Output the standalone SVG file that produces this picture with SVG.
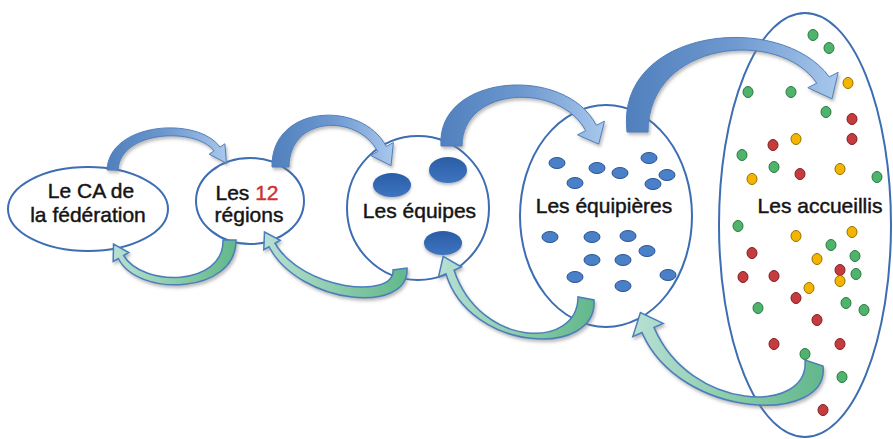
<svg xmlns="http://www.w3.org/2000/svg" width="893" height="439" viewBox="0 0 893 439">
<defs>
<style>
.node{fill:#fff;stroke:#3d6db3;stroke-width:2}
.lbl{font-family:"Liberation Sans",Arial,sans-serif;font-size:21px;fill:#151515;stroke:#151515;stroke-width:0.45;text-anchor:middle}
.top{fill:url(#gTop);stroke:#4f7fbc;stroke-width:1;filter:url(#sh)}
.bot{fill:url(#gBot);stroke:#4a7ebb;stroke-width:1.5;filter:url(#sh)}
.team{fill:url(#gTeam);filter:url(#sh2)}
.mem{fill:#4a80c8;stroke:#2b5593;stroke-width:1}
.g{fill:#4fb36b;stroke:#2c7a43;stroke-width:1}
.r{fill:#c63b3e;stroke:#7d2225;stroke-width:1}
.y{fill:#f4b500;stroke:#977200;stroke-width:1}
</style>
<linearGradient id="gTop" x1="0" y1="0" x2="1" y2="0">
<stop offset="0" stop-color="#5080bd"/>
<stop offset="0.5" stop-color="#6e98cf"/>
<stop offset="1" stop-color="#a8c8ec"/>
</linearGradient>
<linearGradient id="gBot" x1="0" y1="0" x2="1" y2="0">
<stop offset="0" stop-color="#b8e0d4"/>
<stop offset="0.55" stop-color="#88caa8"/>
<stop offset="1" stop-color="#62b78b"/>
</linearGradient>
<linearGradient id="gTeam" x1="0" y1="0" x2="0" y2="1">
<stop offset="0" stop-color="#2a5da6"/>
<stop offset="1" stop-color="#3f74c0"/>
</linearGradient>
<filter id="sh" x="-20%" y="-20%" width="140%" height="140%">
<feDropShadow dx="1.5" dy="2.5" stdDeviation="1.8" flood-color="#7a7a7a" flood-opacity="0.5"/>
</filter>
<filter id="sh2" x="-30%" y="-30%" width="160%" height="170%">
<feDropShadow dx="0" dy="2" stdDeviation="1.5" flood-color="#666" flood-opacity="0.45"/>
</filter>
</defs>
<rect width="893" height="439" fill="#fff"/>

<g id="node-accueillis">
<ellipse class="node" cx="805" cy="225" rx="86" ry="212"/>
<ellipse class="g" cx="813" cy="35" rx="5" ry="5.5"/>
<ellipse class="g" cx="829" cy="48" rx="5" ry="5.5"/>
<ellipse class="y" cx="848" cy="83" rx="5" ry="5.5"/>
<ellipse class="g" cx="748" cy="92" rx="5" ry="5.5"/>
<ellipse class="g" cx="791" cy="92" rx="5" ry="5.5"/>
<ellipse class="g" cx="826" cy="112" rx="5" ry="5.5"/>
<ellipse class="r" cx="852" cy="119" rx="5" ry="5.5"/>
<ellipse class="y" cx="796" cy="139" rx="5" ry="5.5"/>
<ellipse class="r" cx="773" cy="145" rx="5" ry="5.5"/>
<ellipse class="r" cx="852" cy="139" rx="5" ry="5.5"/>
<ellipse class="g" cx="742" cy="155" rx="5" ry="5.5"/>
<ellipse class="g" cx="774" cy="167" rx="5" ry="5.5"/>
<ellipse class="r" cx="800" cy="174" rx="5" ry="5.5"/>
<ellipse class="y" cx="840" cy="169" rx="5" ry="5.5"/>
<ellipse class="y" cx="752" cy="179" rx="5" ry="5.5"/>
<ellipse class="g" cx="877" cy="177" rx="5" ry="5.5"/>
<ellipse class="g" cx="738" cy="226" rx="5" ry="5.5"/>
<ellipse class="y" cx="796" cy="236" rx="5" ry="5.5"/>
<ellipse class="y" cx="852" cy="232" rx="5" ry="5.5"/>
<ellipse class="g" cx="831" cy="245" rx="5" ry="5.5"/>
<ellipse class="r" cx="752" cy="253" rx="5" ry="5.5"/>
<ellipse class="g" cx="855" cy="256" rx="5" ry="5.5"/>
<ellipse class="y" cx="817" cy="259" rx="5" ry="5.5"/>
<ellipse class="r" cx="840" cy="270" rx="5" ry="5.5"/>
<ellipse class="r" cx="743" cy="277" rx="5" ry="5.5"/>
<ellipse class="r" cx="774" cy="276" rx="5" ry="5.5"/>
<ellipse class="g" cx="856" cy="274" rx="5" ry="5.5"/>
<ellipse class="y" cx="840" cy="281" rx="5" ry="5.5"/>
<ellipse class="y" cx="809" cy="288" rx="5" ry="5.5"/>
<ellipse class="r" cx="796" cy="298" rx="5" ry="5.5"/>
<ellipse class="g" cx="846" cy="303" rx="5" ry="5.5"/>
<ellipse class="g" cx="758" cy="308" rx="5" ry="5.5"/>
<ellipse class="g" cx="864" cy="310" rx="5" ry="5.5"/>
<ellipse class="r" cx="817" cy="320" rx="5" ry="5.5"/>
<ellipse class="r" cx="774" cy="344" rx="5" ry="5.5"/>
<ellipse class="r" cx="840" cy="344" rx="5" ry="5.5"/>
<ellipse class="g" cx="805" cy="354" rx="5" ry="5.5"/>
<ellipse class="g" cx="842" cy="377" rx="5" ry="5.5"/>
<ellipse class="r" cx="823" cy="410" rx="5" ry="5.5"/>
<text class="lbl" x="820" y="213">Les accueillis</text>
</g>

<g id="node-equipieres">
<ellipse class="node" cx="606" cy="216" rx="86" ry="111"/>
<ellipse class="mem" cx="557" cy="163" rx="8" ry="5.5"/>
<ellipse class="mem" cx="597" cy="168" rx="8" ry="5.5"/>
<ellipse class="mem" cx="620" cy="173" rx="8" ry="5.5"/>
<ellipse class="mem" cx="649" cy="158" rx="8" ry="5.5"/>
<ellipse class="mem" cx="667" cy="175" rx="8" ry="5.5"/>
<ellipse class="mem" cx="575" cy="183" rx="8" ry="5.5"/>
<ellipse class="mem" cx="653" cy="184" rx="8" ry="5.5"/>
<ellipse class="mem" cx="550" cy="237" rx="8" ry="5.5"/>
<ellipse class="mem" cx="592" cy="237" rx="8" ry="5.5"/>
<ellipse class="mem" cx="628" cy="236" rx="8" ry="5.5"/>
<ellipse class="mem" cx="647" cy="251" rx="8" ry="5.5"/>
<ellipse class="mem" cx="592" cy="260" rx="8" ry="5.5"/>
<ellipse class="mem" cx="623" cy="260" rx="8" ry="5.5"/>
<ellipse class="mem" cx="575" cy="277" rx="8" ry="5.5"/>
<ellipse class="mem" cx="668" cy="275" rx="8" ry="5.5"/>
<ellipse class="mem" cx="623" cy="286" rx="8" ry="5.5"/>
<text class="lbl" x="604" y="213">Les équipières</text>
</g>

<g id="node-equipes">
<ellipse class="node" cx="418" cy="208" rx="71" ry="72"/>
<ellipse class="team" cx="392" cy="185" rx="19" ry="12"/>
<ellipse class="team" cx="448" cy="170" rx="19" ry="13"/>
<ellipse class="team" cx="443" cy="243" rx="19" ry="12"/>
<text class="lbl" x="419.5" y="218">Les équipes</text>
</g>

<g id="node-regions">
<ellipse class="node" cx="250" cy="201" rx="54" ry="43"/>
<text class="lbl" x="247" y="200">Les <tspan fill="#d0312f" stroke="#d0312f">12</tspan></text>
<text class="lbl" x="249" y="222">régions</text>
</g>

<g id="node-ca">
<ellipse class="node" cx="88" cy="209" rx="80" ry="42"/>
<text class="lbl" x="91" y="198">Le CA de</text>
<text class="lbl" x="88" y="222">la fédération</text>
</g>

<g id="connectors">
<path class="top" d="M107,170 C109,122 198,116 219.9,147.1 L224.9,143.8 L226.4,163.1 L209.1,154.2 L214.1,150.9 C196,127 120,130 118,170 Z"/>
<path class="top" d="M272,167 C271,104 362,100 386.3,146.5 L393.4,142.5 L391,165.6 L370.6,155.5 L377.7,151.5 C357,113 289,116 289,167 Z"/>
<path class="top" d="M441,146 C436,74 565,64 596.3,125.3 L604.5,121.2 L598.7,144.1 L577.5,134.8 L585.7,130.7 C560,82 462,86 462,146 Z"/>
<path class="top" d="M627,132 C615,28 780,10 829.2,76.9 L838.2,72.3 L832,98.8 L807.8,87.7 L816.8,83.2 C780,28 648,40 648,132 Z"/>
<path class="bot" d="M236,240 C237,294 138,298 118.4,258.5 L113.2,261.5 L113.5,244 L128.8,252.5 L123.6,255.5 C142,287 224,287 223,240 Z"/>
<path class="bot" d="M407,268 C410,315 300,305 269,246.75 L263.8,249.75 L264.5,232 L280.2,240.25 L275,243.25 C302,290 395,300 393,270 Z"/>
<path class="bot" d="M594,300 C598,358 470,353 445.9,273.8 L438.5,277 L443.2,256.4 L461.5,267 L454.1,270.2 C480,348 578,350 578,297 Z"/>
<path class="bot" d="M823,366 C830,425 680,420 642,332.6 L632.8,336.6 L640.4,312.5 L663.2,323.4 L654,327.4 C690,412 810,415 805,360 Z"/>
</g>
</svg>
